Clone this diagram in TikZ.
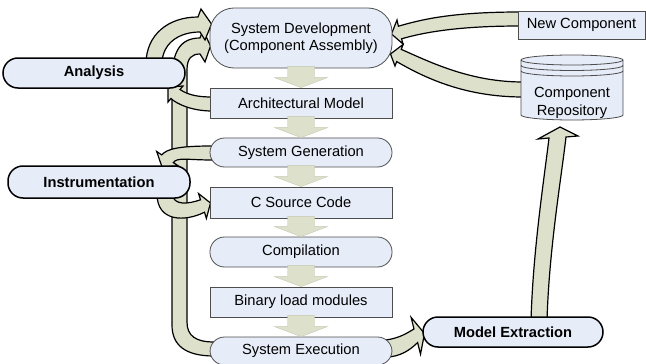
\documentclass[tikz,border=0pt]{standalone}
\usepackage{fontspec}
\setmainfont{Liberation Sans}
\usetikzlibrary{calc}
\definecolor{boxblue}{HTML}{E6ECF8}
\definecolor{bordergray}{HTML}{4D4D4D}
\definecolor{arrowfill}{HTML}{DDE0CB}
\definecolor{arrowedge}{HTML}{C4C8AE}
\tikzset{
  sbox/.style={draw=bordergray, fill=boxblue, line width=0.8pt, minimum width=182pt, minimum height=30pt, inner sep=0pt, align=center},
  rbox/.style={sbox, rounded corners=14.5pt},
  act/.style={draw=black, fill=boxblue, line width=1.5pt, rounded corners=15pt, minimum width=182pt, minimum height=30pt, inner sep=0pt, font=\fontsize{14.7pt}{17.5pt}\selectfont\bfseries},
  barrow/.style={draw=black, fill=arrowfill, line width=1.2pt, line join=miter},
  darrow/.style={fill=arrowfill, draw=arrowedge, line width=0.4pt},
}
\begin{document}
\begin{tikzpicture}[x=1pt, y=-1pt, font=\fontsize{14.7pt}{17.5pt}\selectfont]
\useasboundingbox (0,0) rectangle (646,364);

% ---- curved block arrows (behind the boxes) ----
% loop: System Execution -> System Development
\draw[barrow] (214,342) .. controls (196,342) and (187,336) .. (187,322) -- (187,70)
  .. controls (187,58) and (192,54) .. (200,54) -- (205,62) -- (210.5,46) -- (203,30) -- (200,38)
  .. controls (180,38) and (172,52) .. (172,80) -- (172,325)
  .. controls (172,345) and (185,356) .. (214,356) -- cycle;
% Analysis -> System Development
\draw[barrow] (146,64) .. controls (146,35) and (168,17) .. (198,17) -- (201,9) -- (211.5,24) -- (205,40) -- (200,32)
  .. controls (178,32) and (162,44) .. (162,64) -- cycle;
% Architectural Model -> Analysis
\draw[barrow] (212,97) .. controls (198,97) and (188,95) .. (180,89.5) -- (183,86) -- (168,87) -- (168,102) -- (171,98.5)
  .. controls (176.6,104) and (192,111) .. (212,111) -- cycle;
% System Generation -> Instrumentation
\draw[barrow] (212,146) .. controls (178,146) and (167,149) .. (161.7,154.9) -- (156.7,151.5) -- (162,167) -- (178.3,165.9) -- (173.3,162.6)
  .. controls (177,157) and (188,160) .. (212,160) -- cycle;
% Instrumentation -> C Source Code
\draw[barrow] (157,194) .. controls (157,222) and (185,222) .. (204.5,212.2) -- (206.4,218.4) -- (210.5,203) -- (198.6,193.6) -- (200.5,199.8)
  .. controls (188,204) and (174,206) .. (172,194) -- cycle;
% New Component -> System Development
\draw[barrow] (520,12) .. controls (450,12) and (420,20) .. (398.4,26.2) -- (397,20) -- (391.5,34) -- (403,44) -- (401.6,38.8)
  .. controls (425,32) and (460,26) .. (520,26) -- cycle;
% Component Repository -> System Development
\draw[barrow] (523,82) .. controls (470,82) and (430,62) .. (401.3,49.4) -- (403,44.5) -- (390.5,54) -- (395,66) -- (396.7,61.6)
  .. controls (425,78) and (465,97) .. (523,97) -- cycle;
% System Execution -> Model Extraction
\draw[barrow] (386,340) .. controls (400,338) and (407,333) .. (414,329) -- (411.1,317.4) -- (424.5,333.5) -- (420.5,354.2) -- (417.6,342.6)
  .. controls (410,350) and (400,357) .. (386,357) -- cycle;
% Model Extraction -> Component Repository
\draw[barrow] (531,321) .. controls (533,250) and (544,180) .. (549,138) -- (538,139) -- (560,127) -- (578,136) -- (566,137)
  .. controls (561,180) and (549,250) .. (547,321) -- cycle;

% ---- main column ----
\node[sbox, minimum height=60pt, rounded corners=24pt] (sd) at (301,38) {System Development\\(Component Assembly)};
\node[sbox] (am) at (301,103) {Architectural Model};
\node[rbox, minimum height=29pt] (sg) at (301,152.5) {System Generation};
\node[sbox, minimum height=31pt] (cs) at (301,202.5) {C Source Code};
\node[rbox] (cp) at (301,252) {Compilation};
\node[sbox] (bl) at (301,302) {Binary load modules};
\node[rbox, minimum height=28pt] (se) at (301,351) {System Execution};

% ---- right side ----
\node[sbox, minimum width=127pt, minimum height=28pt] (nc) at (581.5,25) {New Component};
\draw[draw=bordergray, fill=boxblue, line width=0.8pt]
  (521,60) -- (521,115) arc[start angle=180, end angle=360, x radius=51pt, y radius=5pt]
  -- (623,60) arc[start angle=0, end angle=180, x radius=51pt, y radius=5pt] -- cycle;
\draw[draw=bordergray, line width=0.8pt]
  (521,60) arc[start angle=180, end angle=360, x radius=51pt, y radius=5pt]
  (521,65.5) arc[start angle=180, end angle=360, x radius=51pt, y radius=5pt]
  (521,71) arc[start angle=180, end angle=360, x radius=51pt, y radius=5pt];
\node[align=center, inner sep=0pt] (cr) at (572,103) {Component\\Repository};

% ---- activities ----
\node[act] (an) at (94,73) {Analysis};
\node[act, minimum height=32pt] (in) at (99,182) {Instrumentation};
\node[act, minimum width=180pt] (me) at (513,332) {Model Extraction};

% ---- straight down arrows ----
\foreach \a/\b in {sd/am, am/sg, sg/cs, cs/cp, cp/bl, bl/se} {
  \path (\a.south) coordinate (s) (\b.north) coordinate (e);
  \draw[darrow] ($(s)+(-13.5,-2)$) -- ($(e)+(-13.5,-10)$) -- ($(e)+(-26.5,-10)$) -- (e)
    -- ($(e)+(26.5,-10)$) -- ($(e)+(13.5,-10)$) -- ($(s)+(13.5,-2)$) -- cycle;
}
\end{tikzpicture}
\end{document}
